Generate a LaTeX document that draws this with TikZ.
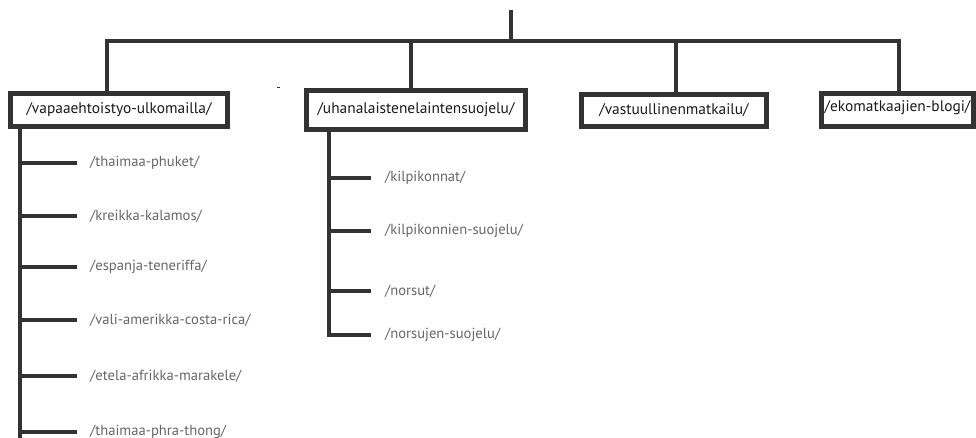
\documentclass[tikz,border=0pt]{standalone}
\usepackage{fontspec}
\setmainfont{PT Sans}
\definecolor{linecol}{HTML}{333333}
\definecolor{boxtext}{HTML}{1A1A1A}
\definecolor{leaftext}{HTML}{666666}
\begin{document}
\begin{tikzpicture}[x=1pt,y=-1pt,
  conn/.style={line width=4pt, draw=linecol},
  box/.style={draw=linecol, line width=5pt, fill=white, inner sep=0pt,
    font=\fontsize{15.4}{18}\selectfont, text=boxtext},
  leaf/.style={anchor=west, inner sep=0pt,
    font=\fontsize{14.6}{17}\selectfont, text=leaftext}]
\useasboundingbox (0,0) rectangle (976,438);
\clip (0,0) rectangle (976,438);
% top level boxes
\node[box, minimum width=217pt, minimum height=33pt] (b1) at (119,110) {/vapaaehtoistyo-ulkomailla/};
\node[box, minimum width=219pt, minimum height=39pt] (b2) at (416,110) {/uhanalaistenelaintensuojelu/};
\node[box, minimum width=185pt, minimum height=32pt] (b3) at (674,110.5) {/vastuullinenmatkailu/};
\node[box, minimum width=152pt, minimum height=33pt] (b4) at (897.5,110) {\raisebox{8pt}{/ekomatkaajien-blogi/}};
% root connector
\coordinate (top) at (511,10);
\coordinate (hub) at (511,41);
\draw[conn] (top) -- (hub);
\draw[conn] (hub) -| ([xshift=-12pt]b1.north);
\draw[conn] (hub) -| ([xshift=-5pt]b2.north);
\draw[conn] (hub) -| ([xshift=2pt]b3.north);
\draw[conn] (hub) -| ([xshift=1.5pt]b4.north);
% stray mark
\draw[linecol, line width=1pt] (277,88) -- (280,88);
% children of b1
\node[leaf] (c1) at (90,163) {/thaimaa-phuket/};
\node[leaf] (c2) at (90,216) {/kreikka-kalamos/};
\node[leaf] (c3) at (90,267) {/espanja-teneriffa/};
\node[leaf] (c4) at (90,320) {/vali-amerikka-costa-rica/};
\node[leaf] (c5) at (90,376) {/etela-afrikka-marakele/};
\node[leaf] (c6) at (90,432) {/thaimaa-phra-thong/};
\coordinate (t1) at (20,445);
\draw[conn] (b1.south -| t1) -- (t1);
\foreach \c in {c1,c2,c3,c4,c5,c6}
  \draw[conn] (t1 |- \c.west) -- ([xshift=-13pt]\c.west);
% children of b2
\node[leaf] (d1) at (385,178) {/kilpikonnat/};
\node[leaf] (d2) at (385,231) {/kilpikonnien-suojelu/};
\node[leaf] (d3) at (385,291) {/norsut/};
\node[leaf] (d4) at (385,335) {/norsujen-suojelu/};
\coordinate (t2) at (329,200);
\draw[conn] (b2.south -| t2) |- ([xshift=-14pt]d4.west);
\foreach \c in {d1,d2,d3}
  \draw[conn] (t2 |- \c.west) -- ([xshift=-14pt]\c.west);
\end{tikzpicture}
\end{document}
